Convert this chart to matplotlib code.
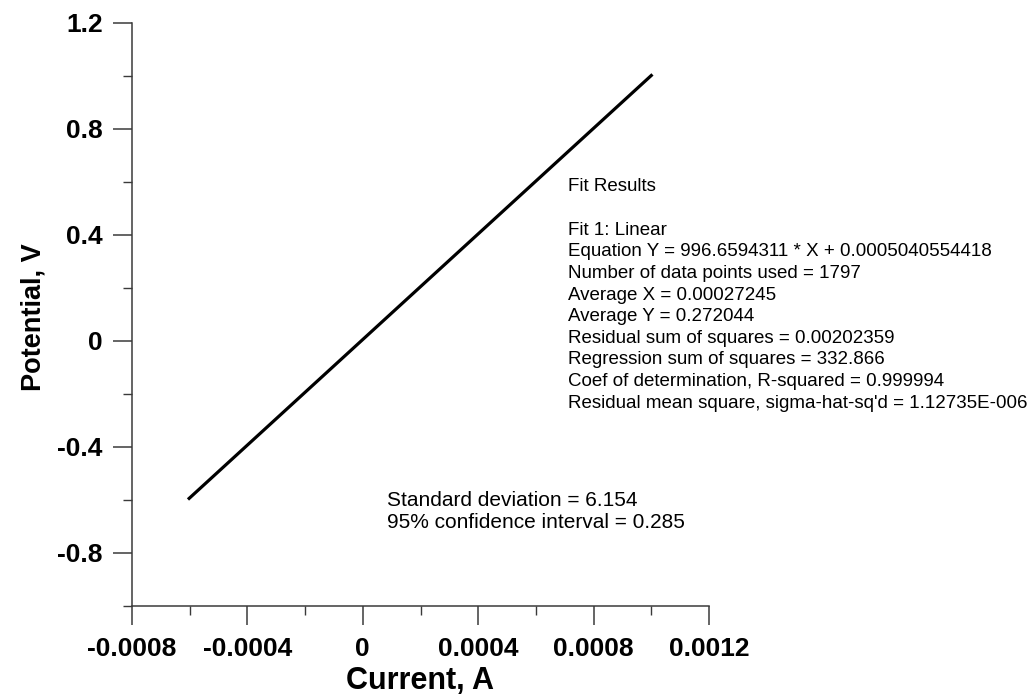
import matplotlib
matplotlib.use("Agg")
import matplotlib.pyplot as plt
from matplotlib.ticker import MultipleLocator, FixedLocator

plt.rcParams['font.family'] = ['Liberation Sans', 'DejaVu Sans']

# Data
current = [-0.000606, 0.001004]      # A
potential = [-0.598, 1.006]          # V

x_ticks = [-0.0008, -0.0004, 0, 0.0004, 0.0008, 0.0012]
x_tick_labels = ["-0.0008", "-0.0004", "0", "0.0004", "0.0008", "0.0012"]
y_ticks = [-0.8, -0.4, 0, 0.4, 0.8, 1.2]
y_tick_labels = ["-0.8", "-0.4", "0", "0.4", "0.8", "1.2"]

fit_lines = [
    "Fit Results",
    "",
    "Fit 1: Linear",
    "Equation Y = 996.6594311 * X + 0.0005040554418",
    "Number of data points used = 1797",
    "Average X = 0.00027245",
    "Average Y = 0.272044",
    "Residual sum of squares = 0.00202359",
    "Regression sum of squares = 332.866",
    "Coef of determination, R-squared = 0.999994",
    "Residual mean square, sigma-hat-sq'd = 1.12735E-006",
]
stat_lines = [
    "Standard deviation = 6.154",
    "95% confidence interval = 0.285",
]

W, H = 1029, 694
fig = plt.figure(figsize=(W / 100, H / 100), dpi=100)
left, right, top, bottom = 132, 709, 23, 606
ax = fig.add_axes([left / W, 1 - bottom / H, (right - left) / W, (bottom - top) / H])

ax.plot(current, potential, color='black', lw=2.3, solid_capstyle='butt')

ax.set_xlim(-0.0008, 0.0012)
ax.set_ylim(-1.0, 1.2)
ax.xaxis.set_major_locator(FixedLocator(x_ticks))
ax.set_xticklabels(x_tick_labels)
ax.yaxis.set_major_locator(FixedLocator(y_ticks))
ax.set_yticklabels(y_tick_labels)
ax.xaxis.set_minor_locator(MultipleLocator(0.0002))
ax.yaxis.set_minor_locator(MultipleLocator(0.2))

for s in ['top', 'right']:
    ax.spines[s].set_visible(False)
for s in ['left', 'bottom']:
    ax.spines[s].set_linewidth(1.1)
    ax.spines[s].set_color('#3a3a3a')

ax.tick_params(which='major', direction='out', length=14, width=1.1, color='#3a3a3a',
               labelsize=19)
ax.tick_params(which='minor', direction='out', length=6.5, width=1.0, color='#3a3a3a')
ax.tick_params(axis='x', which='major', pad=8.5)
ax.tick_params(axis='y', which='major', pad=7)
for lab in ax.get_xticklabels() + ax.get_yticklabels():
    lab.set_fontweight('bold')

fig.text(34 / W, 1 - 317 / H, "Potential, V", rotation=90, ha='center', va='center',
         fontsize=19.5, fontweight='bold')
fig.text(420 / W, 1 - 681 / H, "Current, A", ha='center', va='center',
         fontsize=22, fontweight='bold')

y0, dy = 187, 21.6
for i, t in enumerate(fit_lines):
    if t:
        fig.text(568 / W, 1 - (y0 + i * dy) / H, t, ha='left', va='center', fontsize=13.5)

for i, t in enumerate(stat_lines):
    fig.text(387 / W, 1 - (500 + i * 23) / H, t, ha='left', va='center', fontsize=15)

fig.savefig("out.png", dpi=100)
